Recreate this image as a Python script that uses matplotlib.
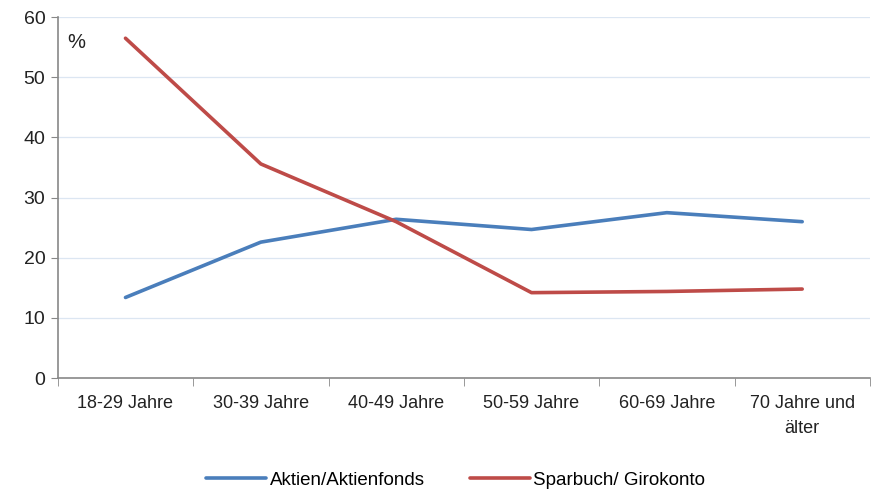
import matplotlib.pyplot as plt
import numpy as np

categories = ['18-29 Jahre', '30-39 Jahre', '40-49 Jahre', '50-59 Jahre',
              '60-69 Jahre', '70 Jahre und\nälter']
aktien = [13.4, 22.6, 26.4, 24.7, 27.5, 26.0]
sparbuch = [56.5, 35.6, 26.0, 14.2, 14.4, 14.8]

plt.rcParams['font.family'] = ['Liberation Sans', 'DejaVu Sans']

fig = plt.figure(figsize=(8.76, 4.91), dpi=100)
ax = fig.add_axes([0.066, 0.230, 0.927, 0.735])

x = np.arange(len(categories))
ax.plot(x, aktien, color='#4a7ebb', lw=2.6, label='Aktien/Aktienfonds', solid_capstyle='round')
ax.plot(x, sparbuch, color='#be4b48', lw=2.6, label='Sparbuch/ Girokonto', solid_capstyle='round')

ax.set_xlim(-0.5, len(categories) - 0.5)
ax.set_ylim(0, 60)
ax.set_yticks(range(0, 61, 10))
ax.yaxis.grid(True, color='#dce6f2', lw=0.9)
ax.set_axisbelow(True)

# category labels centred, tick marks between categories
ax.set_xticks(x)
ax.set_xticklabels(categories, fontsize=13, color='#222222', linespacing=1.6, va='top')
ax.set_xticks(np.arange(-0.5, len(categories), 1), minor=True)
ax.tick_params(axis='x', which='major', length=0, pad=12)
ax.tick_params(axis='x', which='minor', length=6, color='#888888', direction='out')
ax.tick_params(axis='y', length=5, colors='#888888', labelcolor='#222222', labelsize=14, pad=4)

for s in ['top', 'right']:
    ax.spines[s].set_visible(False)
for s in ['left', 'bottom']:
    ax.spines[s].set_color('#888888')
    ax.spines[s].set_linewidth(1.2)

ax.text(0.012, 0.955, '%', transform=ax.transAxes, fontsize=14.5, va='top', ha='left', color='#222222')

fig.legend(loc='center', bbox_to_anchor=(0.52, 0.022), ncol=2, frameon=False,
           fontsize=13.5, handlelength=3.2, handletextpad=0.2, columnspacing=2.4,
           borderaxespad=0, borderpad=0)

fig.savefig('out.png', dpi=100)
